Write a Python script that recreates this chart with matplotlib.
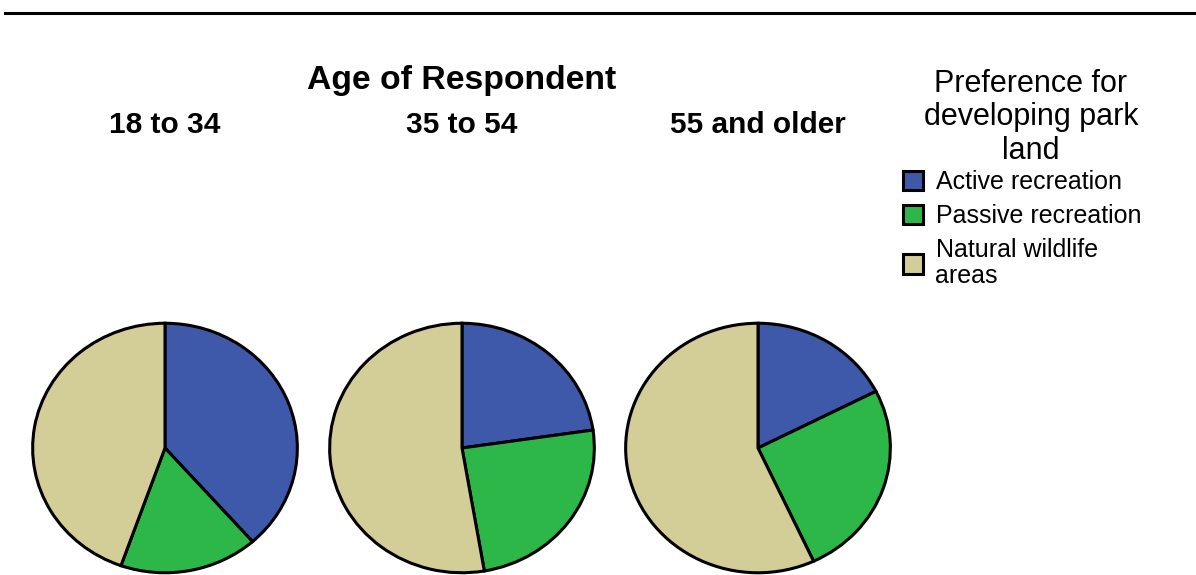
import matplotlib.pyplot as plt
from matplotlib.lines import Line2D

plt.rcParams['font.family'] = ['Liberation Sans', 'DejaVu Sans']

# share of respondents (%) by age group
age_groups = ['18 to 34', '35 to 54', '55 and older']
preferences = ['Active recreation', 'Passive recreation', 'Natural wildlife\nareas']
active = [38.5, 22.7, 17.5]
passive = [16.9, 24.6, 25.6]
natural = [44.6, 52.7, 56.9]

colors = ['#3e59a9', '#2eb749', '#d3ce98']

W, H = 1196, 575
fig = plt.figure(figsize=(W / 100, H / 100), dpi=100)

# rule across the top
fig.add_artist(Line2D([5 / W, 1.0], [1 - 12.5 / H, 1 - 12.5 / H],
                      color='black', lw=2.2))

fig.text(462 / W, 1 - 80 / H, 'Age of Respondent', ha='center', va='center',
         fontsize=24.3, fontweight='bold')

pie_lefts = [30, 327, 623]
wedges = None
for i, grp in enumerate(age_groups):
    left = pie_lefts[i]
    ax = fig.add_axes([left / W, 1 / H, 270 / W, 252 / H])
    vals = [active[i], passive[i], natural[i]]
    wedges, _ = ax.pie(vals, colors=colors, startangle=90, counterclock=False,
                       radius=1, wedgeprops=dict(edgecolor='black', linewidth=2.2))
    ax.set_aspect('auto')
    ax.set_xlim(-1.02, 1.02)
    ax.set_ylim(-1.01, 1.01)
    ax.axis('off')
    fig.text((left + 135) / W, 1 - 125 / H, grp, ha='center', va='center',
             fontsize=21.5, fontweight='bold')

# legend title
fig.text(1031 / W, 1 - 69 / H, 'Preference for\ndeveloping park\nland',
         ha='center', va='top', multialignment='center',
         fontsize=22, linespacing=1.15)

leg = fig.legend(wedges, preferences, loc='upper left',
                 bbox_to_anchor=(903 / W, 1 - 170 / H),
                 fontsize=18, frameon=False,
                 borderpad=0, borderaxespad=0, handlelength=0.8,
                 handleheight=0.8, handletextpad=0.5, labelspacing=0.4)
for t in leg.get_texts():
    t.set_linespacing(1.12)
for h in leg.legend_handles:
    h.set_linewidth(2.2)

fig.savefig('out.png', dpi=100)
